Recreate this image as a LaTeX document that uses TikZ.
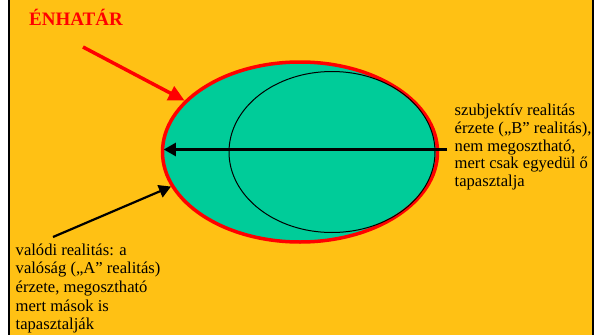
\documentclass[tikz,border=0pt]{standalone}
\usepackage{fontspec}
\setmainfont{Liberation Serif}
\usepackage{xcolor}
\usetikzlibrary{shapes.geometric,arrows.meta,positioning}

\definecolor{bgorange}{HTML}{FFC114}
\definecolor{eggteal}{HTML}{00CC99}

\begin{document}
\begin{tikzpicture}[
    x=1pt, y=-1pt,
    egg/.style={
      ellipse, draw=red, fill=eggteal, line width=3.5pt,
      minimum width=275pt, minimum height=180pt, inner sep=0pt
    },
    inneregg/.style={
      ellipse, draw=black, line width=1pt,
      minimum width=206pt, minimum height=161pt, inner sep=0pt
    },
    label/.style={
      align=left, inner sep=0pt, anchor=north west,
      font=\fontsize{16.6}{17.7}\selectfont
    },
    redarrow/.style={draw=red, line width=3.5pt, -{Triangle[length=16pt,width=15pt]}},
    blackarrow/.style={draw=black, line width=2.2pt, -{Triangle[length=12pt,width=13pt]}}
]

  % canvas
  \useasboundingbox (0,0) rectangle (598,335);
  \fill[white] (0,0) rectangle (598,335);
  \fill[bgorange] (9,0) rectangle (593,335);
  \draw[line width=2pt] (9,0) -- (9,335);
  \draw[line width=2pt] (593,0) -- (593,335);

  % the two ellipses
  \node[egg] (boundary) at (300,152) {};
  \node[inneregg] (subjective) at (332,152) {};

  % texts
  \node[text=red, font=\fontsize{19}{21}\selectfont\bfseries, anchor=base west, inner sep=0pt]
    (title) at (29,25) {ÉNHATÁR};
  \node[label] (subjtext) at (454.5,104) {szubjektív realitás\\érzete („B” realitás),\\nem megosztható,\\mert csak egyedül ő\\tapasztalja};
  \node[label, font=\fontsize{16.6}{18.6}\selectfont] (realtext) at (15.5,243.5)
    {valódi realitás: a\\valóság („A” realitás)\\érzete, megosztható\\mert mások is\\tapasztalják};

  % arrows
  \coordinate (titletail) at (83,47);
  \coordinate (subjtail) at (447,149.5);
  \coordinate (realtail) at (53,237);
  \draw[redarrow] (titletail) -- (boundary.156);
  \draw[blackarrow] (subjtail) -- ([xshift=3pt]subjtail -| boundary.west);
  \draw[blackarrow] (realtail) -- (boundary.195);

\end{tikzpicture}
\end{document}
